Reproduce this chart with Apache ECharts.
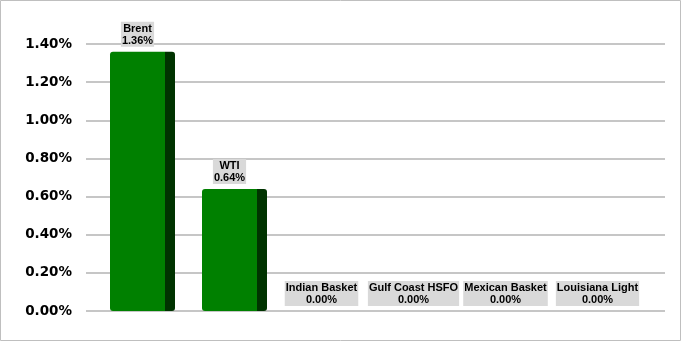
<!DOCTYPE html>
<html>
<head>
<meta charset="utf-8">
<script src="https://cdn.jsdelivr.net/npm/echarts@6/dist/echarts.min.js"></script>
<style>html,body{margin:0;padding:0;background:#fff}#c{width:681px;height:341px}</style>
</head>
<body>
<div id="c"></div>
<script>
const categories = ['Brent', 'WTI', 'Indian Basket', 'Gulf Coast HSFO', 'Mexican Basket', 'Louisiana Light'];
const values = [1.36, 0.64, 0.00, 0.00, 0.00, 0.00];
const yTicks = [0, 0.2, 0.4, 0.6, 0.8, 1.0, 1.2, 1.4];

const chart = echarts.init(document.getElementById('c'), null, {renderer: 'canvas'});
chart.setOption({
  animation: false,
  backgroundColor: '#fff',
  grid: [
    {left: 86, right: 16, top: 44, bottom: 30},
    {left: 96.5, right: 32.5, top: 44, bottom: 30}
  ],
  xAxis: [
    {gridIndex: 0, type: 'category', data: categories, show: false},
    {gridIndex: 1, type: 'category', data: categories, show: false}
  ],
  yAxis: [
    {gridIndex: 0, type: 'value', min: yTicks[0], max: yTicks[yTicks.length - 1], interval: 0.2,
     axisLine: {show: false}, axisTick: {show: false},
     splitLine: {lineStyle: {color: '#b3b3b3', width: 1.5}},
     axisLabel: {margin: 14, fontFamily: 'DejaVu Sans', fontWeight: 'bold', fontSize: 13.5, color: '#000',
       formatter: v => v.toFixed(2) + '%'}},
    {gridIndex: 1, type: 'value', min: yTicks[0], max: yTicks[yTicks.length - 1], interval: 0.2, show: false,
     splitLine: {show: false}}
  ],
  series: [
    {type: 'bar', xAxisIndex: 1, yAxisIndex: 1, data: values, barWidth: 55, barGap: '0%',
     itemStyle: {color: '#008000', borderRadius: [3, 0, 0, 3]},
     label: {show: true, position: 'top', distance: 5, formatter: p => categories[p.dataIndex] + '\n' + p.value.toFixed(2) + '%',
       fontFamily: 'Liberation Sans', fontWeight: 'bold', fontSize: 11, color: '#000', lineHeight: 12,
       backgroundColor: '#d9d9d9', padding: [1, 1, 0, 1], align: 'center'}},
    {type: 'bar', xAxisIndex: 1, yAxisIndex: 1, data: values, barWidth: 10,
     itemStyle: {color: '#003300', borderRadius: [0, 3, 3, 0]}}
  ],
  graphic: [{type: 'rect', shape: {x: 0.5, y: 0.5, width: 680, height: 340},
    style: {fill: 'none', stroke: '#bfbfbf', lineWidth: 1}, z: 100}]
});
</script>
</body>
</html>
